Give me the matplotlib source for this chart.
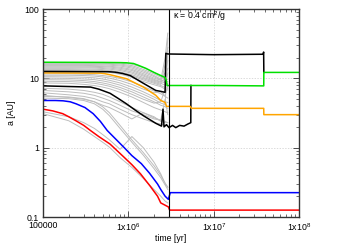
import numpy as np
import matplotlib
matplotlib.use("Agg")
import matplotlib.pyplot as plt

plt.rcParams['font.family'] = ['Liberation Sans', 'DejaVu Sans']
plt.rcParams['mathtext.default'] = 'regular'
plt.rcParams['font.size'] = 6.3

# ---- coloured planets: (time [yr], a [AU]) ----
green_t = [1e5, 5e5, 8e5, 9.5e5, 1.15e6, 1.3e6, 1.6e6, 2.0e6, 2.4e6, 2.7e6, 2.78e6, 2.85e6,
           1e7, 3.87e7, 3.88e7, 1e8]
green_a = [17.1, 17.0, 16.9, 16.8, 16.4, 15.5, 14.0, 12.2, 11.0, 10.3, 9.5, 7.9,
           7.9, 7.8, 12.2, 12.2]

black1_t = [1e5, 5.8e5, 7e5, 8.5e5, 1.05e6, 1.5e6, 2.1e6, 2.4e6, 2.7e6, 2.75e6, 2.9e6,
            1e7, 3.8e7, 3.86e7, 3.88e7]
black1_a = [12.6, 12.5, 12.3, 11.8, 11.0, 8.5, 6.7, 6.5, 6.3, 23.0, 22.5,
            22.0, 22.3, 24.0, 12.2]

orange_t = [1e5, 4.7e5, 5.3e5, 6.1e5, 9.5e5, 1.5e6, 2.1e6, 2.4e6, 2.7e6, 2.8e6, 5.3e6, 5.5e6,
            3.87e7, 3.88e7, 1e8]
orange_a = [12.0, 11.9, 11.7, 11.3, 9.9, 7.5, 5.7, 4.8, 4.5, 3.95, 3.95, 3.7,
            3.7, 3.0, 3.0]

black2_t = [1e5, 3.6e5, 4.5e5, 6.1e5, 7.5e5, 9.5e5, 1.2e6, 1.5e6, 2.1e6, 2.45e6, 2.55e6, 2.62e6,
            2.8e6, 3.0e6, 3.3e6, 3.6e6, 4.0e6, 4.5e6, 5.0e6, 5.4e6, 5.42e6]
black2_a = [7.8, 7.5, 7.0, 6.1, 5.2, 4.3, 3.5, 2.9, 2.25, 2.05, 3.6, 2.0,
            2.15, 1.95, 2.1, 1.95, 2.1, 2.05, 2.2, 2.3, 7.9]

blue_t = [1e5, 1.4e5, 1.72e5, 2.08e5, 2.44e5, 3.1e5, 3.87e5, 4.7e5, 5.66e5, 7e5, 8.97e5,
          1.1e6, 1.42e6, 1.77e6, 2.2e6, 2.4e6, 2.7e6, 2.95e6, 3.1e6, 1e8]
blue_a = [4.8, 4.8, 4.75, 4.6, 4.3, 3.8, 3.1, 2.4, 1.77, 1.36, 1.0,
          0.77, 0.59, 0.43, 0.30, 0.25, 0.20, 0.18, 0.225, 0.225]

red_t = [1e5, 1.3e5, 1.7e5, 2.0e5, 2.4e5, 3.0e5, 3.6e5, 4.5e5, 6.1e5, 8.7e5, 1.1e6, 1.39e6,
         1.8e6, 2.2e6, 2.4e6, 2.95e6, 3.05e6, 1e8]
red_a = [3.6, 3.4, 3.1, 2.8, 2.47, 2.1, 1.77, 1.45, 1.13, 0.75, 0.57, 0.42,
         0.28, 0.20, 0.16, 0.14, 0.126, 0.126]

# ---- grey planets, sampled on a common time grid ----
grey_t = [1e5, 2e5, 3e5, 4e5, 5e5, 6e5, 8e5, 1.1e6, 1.5e6, 2.0e6, 2.4e6, 2.7e6, 2.9e6]
grey_a = [
    [16.9, 16.9, 16.9, 16.9, 16.9, 16.8, 16.6, 16.0, 14.3, 12.2, 10.8, 10.2, 38],
    [16.6, 16.6, 16.6, 16.6, 16.5, 16.4, 16.1, 15.3, 13.5, 11.6, 10.4, 9.8, 9.6],
    [16.2, 16.2, 16.2, 16.2, 16.1, 16.0, 15.6, 14.7, 12.9, 11.0, 9.8, 12, 18],
    [15.8, 15.8, 15.8, 15.8, 15.7, 15.5, 15.1, 14.1, 12.3, 10.6, 9.5, 9.0, 9.0],
    [15.4, 15.4, 15.4, 15.3, 15.2, 15.0, 14.5, 13.5, 11.7, 10.1, 9.4, 20, 45],
    [15.0, 15.0, 15.0, 14.9, 14.8, 14.6, 14.0, 13.0, 11.2, 9.7, 9.0, 8.6, 8.5],
    [14.6, 14.6, 14.6, 14.5, 14.3, 14.1, 13.5, 12.4, 10.8, 9.4, 8.8, 10, 14],
    [14.2, 14.2, 14.2, 14.1, 13.9, 13.6, 13.0, 11.9, 10.3, 9.1, 8.5, 8.0, 7.8],
    [13.8, 13.8, 13.7, 13.6, 13.4, 13.1, 12.4, 11.3, 9.9, 8.8, 8.2, 16, 28],
    [13.4, 13.4, 13.3, 13.2, 13.0, 12.7, 12.0, 10.9, 9.5, 8.5, 7.9, 7.4, 7.2],
    [13.0, 13.0, 12.9, 12.8, 12.5, 12.2, 11.5, 10.4, 9.0, 8.1, 7.6, 7.0, 6.8],
    [11.6, 11.6, 11.5, 11.3, 11.0, 10.7, 10.0, 8.9, 7.6, 6.6, 6.0, 5.5, 5.2],
    [11.1, 11.1, 11.0, 10.8, 10.5, 10.1, 9.3, 8.2, 7.0, 6.2, 6.4, 5.6, 8],
    [10.6, 10.5, 10.4, 10.2, 9.8, 9.4, 8.6, 7.5, 6.4, 5.4, 4.8, 4.6, 4.5],
    [10.1, 10.0, 9.8, 9.6, 9.2, 8.8, 8.0, 6.9, 5.9, 5.0, 4.4, 4.2, 25],
    [9.6, 9.5, 9.3, 9.0, 8.6, 8.2, 7.4, 6.4, 5.4, 4.6, 4.1, 3.9, 3.7],
    [9.1, 9.0, 8.8, 8.5, 8.1, 7.7, 6.9, 5.9, 5.0, 4.4, 4.6, 7, 12],
    [8.6, 8.5, 8.2, 7.9, 7.5, 7.1, 6.3, 5.4, 4.5, 3.8, 3.5, 3.3, 3.2],
    [7.2, 7.0, 6.7, 6.3, 5.9, 5.4, 4.6, 3.8, 3.2, 2.7, 2.5, 2.4, 2.3],
    [6.7, 6.4, 6.1, 5.7, 5.2, 4.8, 4.1, 3.4, 3.0, 2.6, 2.5, 5, 3],
    [6.2, 5.8, 5.5, 5.1, 4.6, 4.3, 3.6, 3.0, 2.6, 2.3, 2.2, 2.1, 2.1],
    [5.7, 5.3, 5.0, 4.6, 4.1, 3.8, 3.2, 2.6, 3.2, 2.8, 2.4, 2.3, 2.3],
    [5.5, 5.4, 5.1, 4.6, 3.9, 3.2, 2.1, 1.3, 0.85, 0.55, 0.4, 0.31, 0.27],
    [5.2, 5.1, 4.8, 4.3, 3.6, 2.9, 1.9, 1.2, 0.78, 0.5, 0.37, 0.29, 0.25],
    [3.3, 2.8, 2.3, 1.9, 1.55, 1.3, 0.95, 1.45, 1.0, 0.62, 0.42, 0.3, 0.27],
    [3.1, 2.45, 1.85, 1.45, 1.2, 1.02, 0.72, 0.52, 0.36, 0.25, 0.2, 0.17, 0.16],
]

t_kappa = 3.03e6

fig = plt.figure(figsize=(3.5, 2.45), dpi=100)
ax = fig.add_axes([0.123, 0.114, 0.731, 0.849])

for a in grey_a:
    ax.plot(grey_t, a, color='#bdbdbd', lw=0.7)

ax.plot(red_t, red_a, color='#ff0000', lw=1.1)
ax.plot(blue_t, blue_a, color='#0000ff', lw=1.1)
ax.plot(black2_t, black2_a, color='black', lw=1.1)
ax.plot(orange_t, orange_a, color='#ffa500', lw=1.1)
ax.plot(black1_t, black1_a, color='black', lw=1.1)
ax.plot(green_t, green_a, color='#00e000', lw=1.1)

ax.axvline(t_kappa, color='black', lw=0.8)
ax.text(0.508, 0.966, r'$\kappa$ = 0.4 cm$^2$/g', transform=ax.transAxes,
        ha='left', va='center')

ax.set_xscale('log')
ax.set_yscale('log')
ax.set_xlim(1e5, 1e8)
ax.set_ylim(0.1, 100)
ax.set_xticks([1e5, 1e6, 1e7, 1e8])
ax.set_xticklabels(['100000', '1x10$^{6}$', '1x10$^{7}$', '1x10$^{8}$'])
ax.set_yticks([0.1, 1, 10, 100])
ax.set_yticklabels(['0.1', '1', '10', '100'])
ax.tick_params(which='both', direction='in', top=True, right=True, color='#333333')
ax.tick_params(which='major', length=4, width=0.6, pad=3)
ax.tick_params(which='minor', length=2, width=0.5)
ax.grid(True, which='major', color='#cccccc', ls=(0, (2, 2)), lw=0.5)
for s in ax.spines.values():
    s.set_color('#333333')
    s.set_linewidth(1.0)

ax.set_xlabel('time [yr]', labelpad=1)
ax.set_ylabel('a [AU]', labelpad=6)

fig.savefig('out.png', dpi=100)
